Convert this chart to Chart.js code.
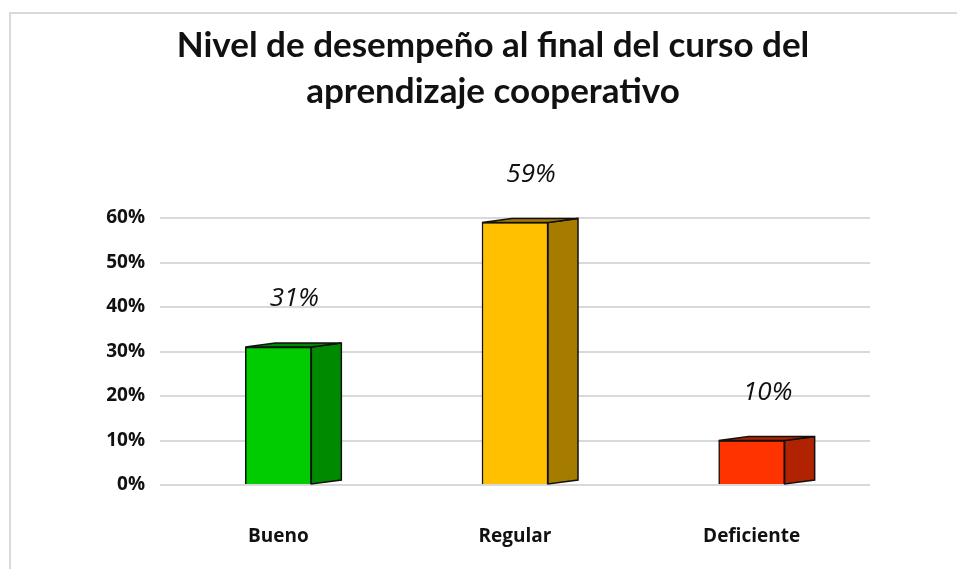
<!DOCTYPE html>
<html>
<head>
<meta charset="utf-8">
<script src="https://cdn.jsdelivr.net/npm/chart.js@4"></script>
<style>
  body { margin: 0; background: #fff; }
  #wrap { width: 957px; height: 569px; }
</style>
</head>
<body>
<div id="wrap"><canvas id="bars" width="957" height="569"></canvas></div>
<script>
var categories = ["Bueno", "Regular", "Deficiente"];
var values = [31, 59, 10];
var frontColors = ["#00cc00", "#ffc000", "#ff3300"];
var sideColors = ["#008a00", "#a67c00", "#b02200"];
var yTicks = [0, 10, 20, 30, 40, 50, 60];
var titleLines = ["Nivel de desempeño al final del curso del", "aprendizaje cooperativo"];

// frame, title, side faces + value labels
var boxPlugin = {
  id: "box3d",
  beforeDraw: function (chart) {
    var c = chart.ctx;
    c.save();
    c.fillStyle = "#fff";
    c.fillRect(0, 0, chart.width, chart.height);
    c.strokeStyle = "#d9d9d9";
    c.lineWidth = 2;
    c.strokeRect(10, 13, chart.width + 10, chart.height + 10);
    c.fillStyle = "#111";
    c.font = "bold 35px Lato, sans-serif";
    c.textAlign = "center";
    c.textBaseline = "middle";
    titleLines.forEach(function (t, i) { c.fillText(t, 493, 46 + i * 46); });
    c.restore();
  },
  afterDatasetsDraw: function (chart) {
    var c = chart.ctx;
    var meta = chart.getDatasetMeta(0);
    var dx = 30, dy = -4;
    meta.data.forEach(function (bar, i) {
      var right = bar.x + bar.width / 2;
      var left = bar.x - bar.width / 2;
      c.save();
      c.lineWidth = 1.5;
      c.strokeStyle = "#111";
      // side
      c.beginPath();
      c.moveTo(right, bar.y);
      c.lineTo(right + dx, bar.y + dy);
      c.lineTo(right + dx, bar.base + dy);
      c.lineTo(right, bar.base);
      c.closePath();
      c.fillStyle = sideColors[i];
      c.fill();
      c.stroke();
      // top
      c.beginPath();
      c.moveTo(left, bar.y);
      c.lineTo(left + dx, bar.y + dy);
      c.lineTo(right + dx, bar.y + dy);
      c.lineTo(right, bar.y);
      c.closePath();
      c.fillStyle = sideColors[i];
      c.fill();
      c.stroke();
      // label
      c.fillStyle = "#111";
      c.font = "italic 26px 'Open Sans', sans-serif";
      c.textAlign = "center";
      c.textBaseline = "middle";
      c.fillText(values[i] + "%", bar.x + 16, bar.y - 48);
      c.restore();
    });
  }
};

new Chart(document.getElementById("bars").getContext("2d"), {
  type: "bar",
  data: {
    labels: categories,
    datasets: [{
      data: values,
      backgroundColor: frontColors,
      borderColor: "#111",
      borderWidth: 1.5,
      barThickness: 66
    }]
  },
  options: {
    responsive: false,
    animation: false,
    layout: { padding: { left: 90, right: 87, top: 218, bottom: 0 } },
    plugins: {
      legend: { display: false },
      tooltip: { enabled: false },
      title: { display: false }
    },
    scales: {
      x: {
        grid: { display: false },
        border: { display: false },
        ticks: { color: "#111", font: { family: "'Open Sans', sans-serif", size: 19, weight: "bold" }, padding: 32 },
        afterFit: function (s) { s.height = 84; }
      },
      y: {
        min: 0,
        max: 60,
        afterBuildTicks: function (s) { s.ticks = yTicks.map(function (v) { return { value: v }; }); },
        grid: { color: "#d9d9d9", lineWidth: 2, drawTicks: false },
        border: { display: false },
        ticks: {
          color: "#111",
          padding: 15,
          font: { family: "'Open Sans', sans-serif", size: 19, weight: "bold" },
          callback: function (v) { return v + "%"; }
        },
        afterFit: function (s) { s.width = 70; }
      }
    }
  },
  plugins: [boxPlugin]
});
</script>
</body>
</html>
